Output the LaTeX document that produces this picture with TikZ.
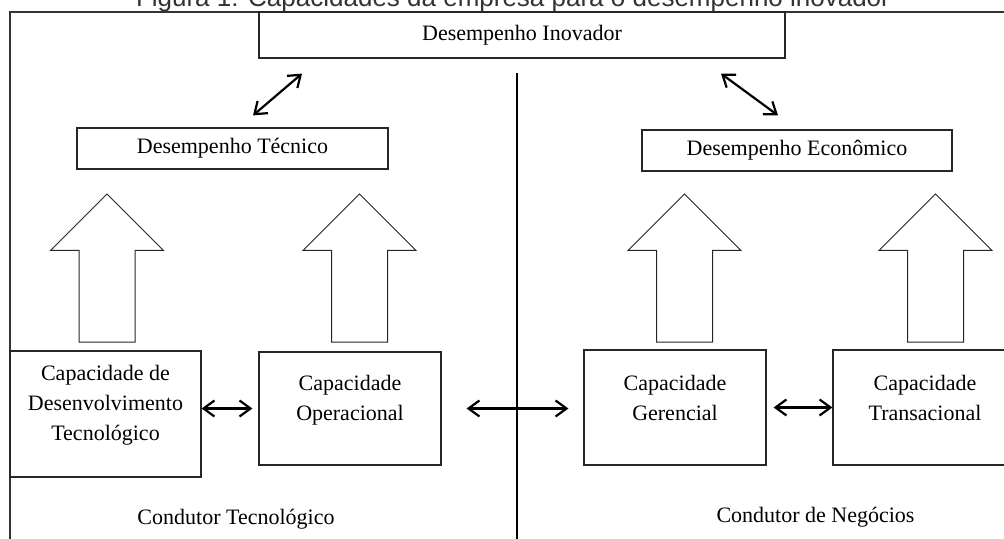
\documentclass[tikz,border=0pt]{standalone}
\usepackage{fontspec}
\setmainfont{Liberation Serif}
\newfontfamily\titlefont{Liberation Sans}
\usetikzlibrary{arrows.meta,calc}
\tikzset{
  box/.style={draw=black!85, line width=0.6pt, fill=white, inner sep=0pt, font=\fontsize{11}{15}\selectfont},
  txt/.style={inner sep=0pt, align=center, font=\fontsize{11}{15}\selectfont},
  dbl/.style={line width=1.1pt, {Straight Barb[length=5.5pt,width=8pt]}-{Straight Barb[length=5.5pt,width=8pt]}},
  blockarrow/.style={draw=black!85, line width=0.5pt, fill=white},
  frameline/.style={line width=0.8pt, draw=black!80},
}
\begin{document}
\begin{tikzpicture}[x=0.5pt,y=-0.5pt]
\useasboundingbox (0,0) rectangle (1004,539);
\clip (0,0) rectangle (1004,539);
\fill[white] (0,0) rectangle (1004,539);
% title (cut at the top edge, as in the reference)
\node[anchor=base, inner sep=0pt, font=\titlefont\fontsize{13}{15}\selectfont, text=black!80] (title) at (513,7) {Figura 1: Capacidades da empresa para o desempenho inovador};
% frame and divider
\draw[frameline] (10,560) -- (10,12) -- (1040,12);
\coordinate (divtop) at (517,73);
\coordinate (divbot) at (517,560);
\draw[line width=0.9pt] (divtop) -- (divbot);
% block arrows
\foreach \cx in {107,359.5,684.5,935.5}
  \draw[blockarrow] (\cx-28,342) -- (\cx-28,250.5) -- (\cx-56.5,250.5) -- (\cx,194)
     -- (\cx+56.5,250.5) -- (\cx+28,250.5) -- (\cx+28,342) -- cycle;
% boxes
\node[box, minimum width=263pt, minimum height=23pt] (inov) at (522,35) {Desempenho Inovador};
\node[box, minimum width=155.5pt, minimum height=20.5pt] (tec) at (232.5,148.5) {Desempenho Técnico};
\node[box, minimum width=155pt, minimum height=20.5pt] (eco) at (797,150.5) {Desempenho Econômico};
\node[box, minimum width=95.5pt, minimum height=63pt] (desenv) at (105.5,414) {};
\node[box, minimum width=91pt, minimum height=56.5pt] (oper) at (350,408.5) {};
\node[box, minimum width=91pt, minimum height=57.5pt] (ger) at (675,407.5) {};
\node[box, minimum width=92pt, minimum height=57.5pt] (trans) at (925,407.5) {};
% box texts
\node[txt] (desenvT) at (105.5,405) {Capacidade de\\Desenvolvimento\\Tecnológico};
\node[txt] (operT) at (350,400) {Capacidade\\Operacional};
\node[txt] (gerT) at (675,398) {Capacidade\\Gerencial};
\node[txt] (transT) at (925,398) {Capacidade\\Transacional};
% region labels
\node[txt, anchor=base] (condT) at (236,524) {Condutor Tecnológico};
\node[txt, anchor=base] (condN) at (815.5,522) {Condutor de Negócios};
% connectors
\draw[dbl] ([shift={(20.5,-12)}]tec.north) -- ([shift={(-220,15)}]inov.south);
\draw[dbl] ([shift={(199,15)}]inov.south) -- ([shift={(-19,-14)}]eco.north);
\draw[dbl, shorten >=3pt] (desenv.east |- oper) -- (oper);
\draw[dbl, shorten <=12.5pt, shorten >=7.5pt] (oper.east) -- (oper.east -| ger.west);
\draw[dbl, shorten <=3.5pt] (ger) -- (trans);
\end{tikzpicture}
\end{document}
